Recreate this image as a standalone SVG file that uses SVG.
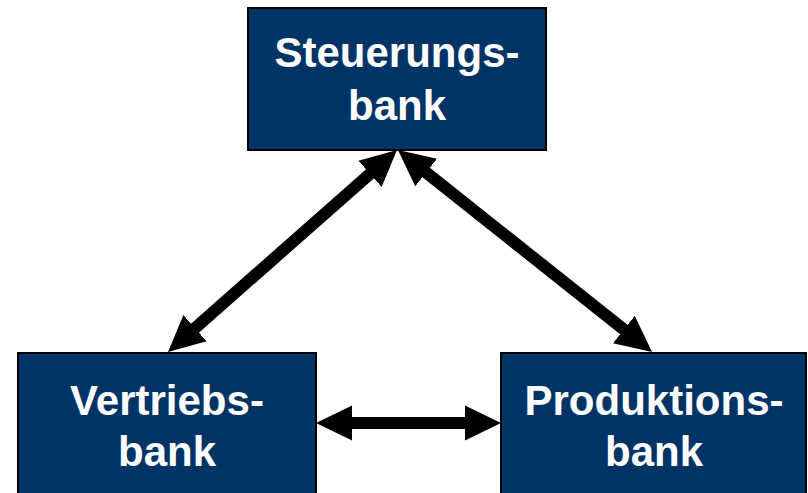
<svg xmlns="http://www.w3.org/2000/svg" width="808" height="493" viewBox="0 0 808 493">
<style>
.box{fill:#003366;stroke:#000;stroke-width:2}
.lbl{font-family:"Liberation Sans",Arial,sans-serif;font-weight:bold;font-size:42px;fill:#fff;text-anchor:middle}
.conn{stroke:#000;stroke-width:12;fill:none;marker-start:url(#ah);marker-end:url(#ah)}
</style>
<defs>
<marker id="ah" markerUnits="userSpaceOnUse" markerWidth="40" markerHeight="40" viewBox="0 -20 40 40" refX="2" refY="0" orient="auto-start-reverse">
<path d="M0,-17.5 L36,0 L0,17.5 z" fill="#000"/>
</marker>
</defs>
<g id="connectors">
<line class="conn" x1="371.5" y1="172.5" x2="193.5" y2="329.5"/>
<line class="conn" x1="424.6" y1="171.2" x2="625.4" y2="330.8"/>
<line class="conn" x1="350" y1="423" x2="467" y2="423"/>
</g>
<g id="steuerungsbank">
<rect class="box" x="248" y="8" width="298" height="142"/>
<text class="lbl" x="397" y="67">Steuerungs-</text>
<text class="lbl" x="397" y="120">bank</text>
</g>
<g id="vertriebsbank">
<rect class="box" x="18" y="353" width="298" height="150"/>
<text class="lbl" x="167" y="415">Vertriebs-</text>
<text class="lbl" x="167" y="466">bank</text>
</g>
<g id="produktionsbank">
<rect class="box" x="501" y="353" width="305" height="150"/>
<text class="lbl" x="654" y="415">Produktions-</text>
<text class="lbl" x="654" y="466">bank</text>
</g>
</svg>
